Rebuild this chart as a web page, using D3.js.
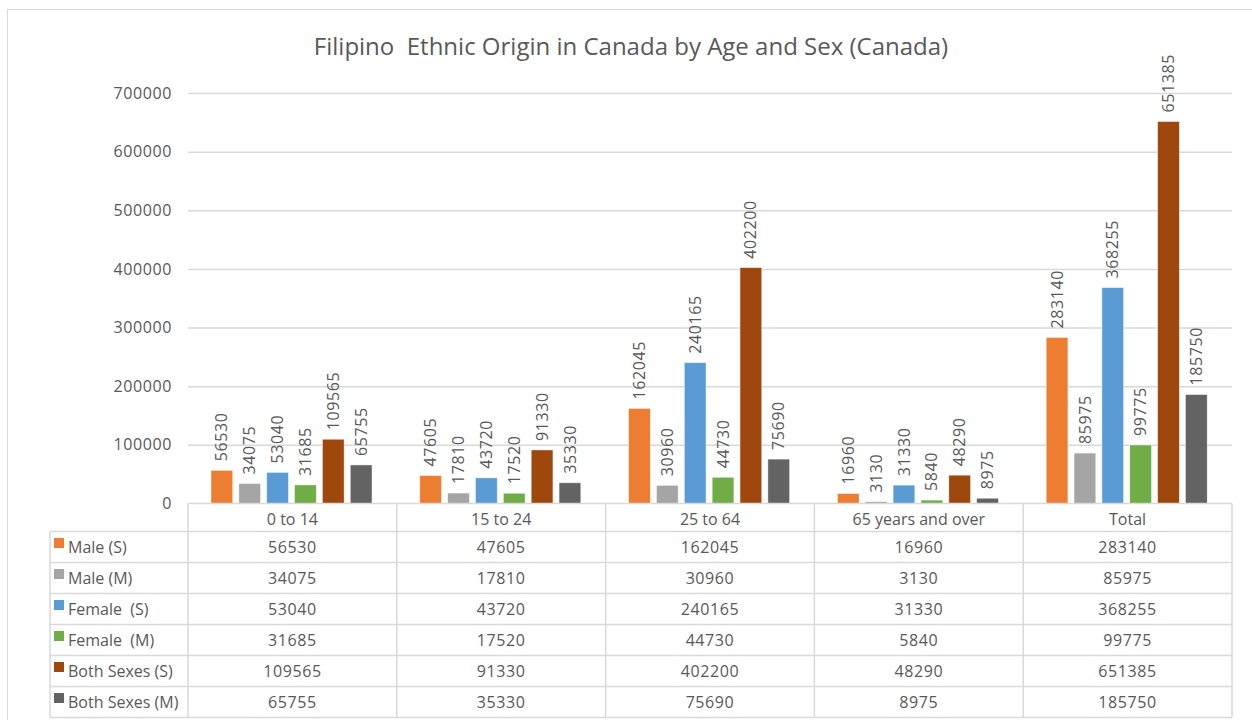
<!DOCTYPE html>
<html>
<head>
<meta charset="utf-8">
<script src="https://cdn.jsdelivr.net/npm/d3@7"></script>
<style>
  body{margin:0;background:#fff;}
  svg text{font-family:"Open Sans","Noto Sans",sans-serif;fill:#595959;white-space:pre;}
</style>
</head>
<body>
<svg id="chart"></svg>
<script>
// data
const categories = ["0 to 14","15 to 24","25 to 64","65 years and over","Total"]
const seriesNames = ["Male (S)","Male (M)","Female  (S)","Female  (M)","Both Sexes (S)","Both Sexes (M)"]
const maleS = [56530,47605,162045,16960,283140]
const maleM = [34075,17810,30960,3130,85975]
const femaleS = [53040,43720,240165,31330,368255]
const femaleM = [31685,17520,44730,5840,99775]
const bothS = [109565,91330,402200,48290,651385]
const bothM = [65755,35330,75690,8975,185750]
const yTicks = [0,100000,200000,300000,400000,500000,600000,700000]
const colors = ["#ED7D31","#A5A5A5","#5B9BD5","#70AD47","#9E480E","#636363"]

const series = [maleS,maleM,femaleS,femaleM,bothS,bothM]

const w = 1252, h = 720
const plotLeft = 188, plotRight = 1232 //plot area x
const plotTop = 93, zeroY = 503.5 //plot area y
const legendLeft = 50
const headerH = 28, rowH = 31
const gridColor = "#D9D9D9"
const numSpacing = "0.6px"

let svg = d3.select("#chart").attr("width",w).attr("height",h)

// outer chart border
svg.append("rect")
  .attr("x",7.5).attr("y",9.5).attr("width",1260).attr("height",720)
  .attr("fill","none").attr("stroke",gridColor).attr("stroke-width",1)

// title
svg.append("text")
  .attr("x",631).attr("y",55)
  .attr("text-anchor","middle")
  .style("font-size","24px")
  .text("Filipino  Ethnic Origin in Canada by Age and Sex (Canada)")

let xScale = d3.scaleBand().domain(categories).range([plotLeft,plotRight]).padding(0)
let x1 = d3.scaleBand().domain(d3.range(series.length)).range([23,184]).paddingInner(0.22)
let yScale = d3.scaleLinear().domain([0,700000]).range([zeroY,plotTop])

// y axis, only labels + gridlines
let yAxis = d3.axisLeft(yScale).tickValues(yTicks).tickFormat(d3.format("d"))
  .tickSize(-(plotRight-plotLeft)).tickPadding(16)
let gy = svg.append("g").attr("transform","translate(" + plotLeft + ",0)").call(yAxis)
gy.select(".domain").remove()
gy.selectAll(".tick line").attr("stroke",gridColor).attr("stroke-width",1.5)
  .filter(d => d === 0).remove()
gy.selectAll(".tick text").style("font-size","16px").style("letter-spacing",numSpacing).attr("fill","#595959")

// bars
let groups = svg.selectAll(".grp")
  .data(categories)
  .enter()
  .append("g")
  .attr("transform",(d) => "translate(" + xScale(d) + ",0)")

groups.each(function(cat,ci){
  let g = d3.select(this)
  series.forEach((vals,si) => {
    let v = vals[ci]
    g.append("rect")
      .attr("x",x1(si))
      .attr("y",yScale(v))
      .attr("width",x1.bandwidth())
      .attr("height",zeroY - yScale(v))
      .attr("fill",colors[si])
      .attr("stroke","#fff").attr("stroke-opacity",0.6).attr("stroke-width",0.75)
    // rotated value label
    let lx = x1(si) + x1.bandwidth()/2
    let ly = yScale(v) - 9
    g.append("text")
      .attr("transform","translate(" + lx + "," + ly + ") rotate(-90)")
      .attr("dy","0.35em")
      .style("font-size","16px")
      .style("letter-spacing",numSpacing)
      .text(v)
  })
})

// data table below the chart
let tableTop = zeroY
let t = svg.append("g")
let lineStyle = (sel) => sel.attr("stroke",gridColor).attr("stroke-width",1.5)

// horizontal lines
t.append("line").attr("x1",plotLeft).attr("x2",plotRight).attr("y1",tableTop).attr("y2",tableTop).call(lineStyle)
for(let r=0;r<=series.length;r++){
  let y = tableTop + headerH + r*rowH
  t.append("line").attr("x1",legendLeft).attr("x2",plotRight).attr("y1",y).attr("y2",y).call(lineStyle)
}
let tableBottom = tableTop + headerH + series.length*rowH
// vertical lines
t.append("line").attr("x1",legendLeft).attr("x2",legendLeft)
  .attr("y1",tableTop + headerH).attr("y2",tableBottom).call(lineStyle)
categories.forEach((c) => {
  t.append("line").attr("x1",xScale(c)).attr("x2",xScale(c))
    .attr("y1",tableTop).attr("y2",tableBottom).call(lineStyle)
})
t.append("line").attr("x1",plotRight).attr("x2",plotRight)
  .attr("y1",tableTop).attr("y2",tableBottom).call(lineStyle)

// header labels
categories.forEach((c) => {
  t.append("text")
    .attr("x",xScale(c) + xScale.bandwidth()/2)
    .attr("y",tableTop + headerH/2 + 2)
    .attr("dy","0.35em")
    .attr("text-anchor","middle")
    .style("font-size","16px")
    .text(c)
})

// rows: legend key + name + values
series.forEach((vals,si) => {
  let cy = tableTop + headerH + si*rowH + rowH/2
  t.append("rect")
    .attr("x",54).attr("y",cy - 9).attr("width",10).attr("height",10)
    .attr("fill",colors[si])
  t.append("text")
    .attr("x",68).attr("y",cy).attr("dy","0.35em")
    .style("font-size","16px")
    .text(seriesNames[si])
  vals.forEach((v,ci) => {
    t.append("text")
      .attr("x",xScale(categories[ci]) + xScale.bandwidth()/2)
      .attr("y",cy).attr("dy","0.35em")
      .attr("text-anchor","middle")
      .style("font-size","16px")
      .style("letter-spacing",numSpacing)
      .text(v)
  })
})
</script>
</body>
</html>
